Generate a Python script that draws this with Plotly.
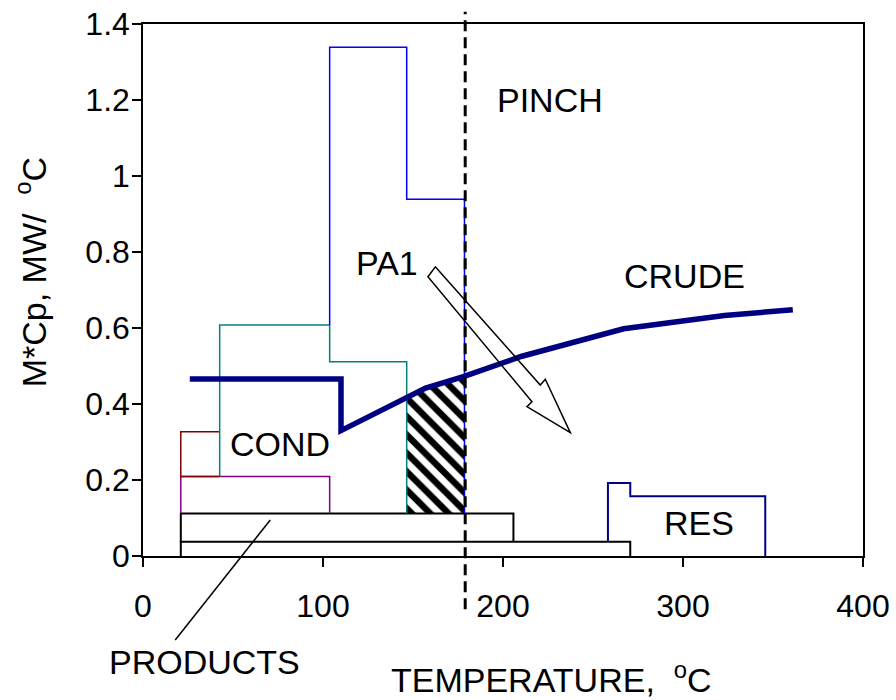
import numpy as np
import plotly.graph_objects as go

FONT = "Liberation Sans, Arial, sans-serif"
FS_TICK = 32
FS_LABEL = 34

# ---- data (temperature in degC, M*Cp in MW/degC) ----
crude_t = [26, 110, 110, 157, 178, 210, 267, 323, 361]
crude_v = [0.466, 0.466, 0.330, 0.442, 0.472, 0.525, 0.598, 0.633, 0.648]

pa1_t = [103.7, 103.7, 146.5, 146.5, 178.6, 178.6]
pa1_v = [0.608, 1.339, 1.339, 0.939, 0.939, 0.112]

cond_t = [42.6, 42.6, 103.7, 103.7, 146.5, 146.5]
cond_v = [0.209, 0.608, 0.608, 0.511, 0.511, 0.112]

red_t = [42.6, 21, 21, 42.6]
red_v = [0.327, 0.327, 0.209, 0.209]

purple_t = [21, 21, 103.7, 103.7]
purple_v = [0.112, 0.209, 0.209, 0.112]

prod_upper_t = [21, 21, 205.8, 205.8]
prod_upper_v = [0.0375, 0.112, 0.112, 0.0375]
prod_lower_t = [21, 21, 270.7, 270.7]
prod_lower_v = [0.0, 0.0375, 0.0375, 0.0]

res_t = [258.3, 258.3, 270.7, 270.7, 345.7, 345.7]
res_v = [0.0375, 0.192, 0.192, 0.157, 0.157, 0.0]

pinch_t = 179

hatch_t_lo, hatch_t_hi, hatch_v_lo = 146.5, 178.6, 0.112

pa1_arrow_t = [162.4, 220.7, 223.5, 237.4, 213.3, 216.1, 158.3]
pa1_arrow_v = [0.761, 0.4500, 0.4650, 0.3245, 0.3929, 0.4060, 0.7350]

x_ticks = [0, 100, 200, 300, 400]
y_ticks = [0, 0.2, 0.4, 0.6, 0.8, 1.0, 1.2, 1.4]
y_ticktext = ["0", "0.2", "0.4", "0.6", "0.8", "1", "1.2", "1.4"]

fig = go.Figure()

# hatched region under crude between cond edge and pinch
ct = np.array(crude_t[2:], float)
cv = np.array(crude_v[2:], float)
top_t = [hatch_t_lo] + [t for t in ct if hatch_t_lo < t < hatch_t_hi] + [hatch_t_hi]
top_v = list(np.interp(top_t, ct, cv))
h_t = [hatch_t_lo] + top_t + [hatch_t_hi, hatch_t_lo]
h_v = [hatch_v_lo] + top_v + [hatch_v_lo, hatch_v_lo]
fig.add_trace(go.Scatter(
    x=h_t, y=h_v, mode="lines", fill="toself", line=dict(width=0),
    fillcolor="white",
    fillpattern=dict(shape="\\", size=13, solidity=0.5, fgcolor="black",
                     bgcolor="white", fgopacity=1),
    hoverinfo="skip"))

def add_line(t, v, color, width):
    fig.add_trace(go.Scatter(x=t, y=v, mode="lines",
                             line=dict(color=color, width=width), hoverinfo="skip"))

add_line(prod_lower_t, prod_lower_v, "black", 2)
add_line(prod_upper_t, prod_upper_v, "black", 2)
add_line(purple_t, purple_v, "#800080", 1.5)
add_line(red_t, red_v, "#800000", 1.5)
add_line(cond_t, cond_v, "#008080", 1.5)
add_line(pa1_t, pa1_v, "#0000FF", 1.5)
add_line(res_t, res_v, "#000080", 2)
add_line(crude_t, crude_v, "#000080", 5.5)

# PA1 hollow arrow
path = "M " + " L ".join(f"{t},{v}" for t, v in zip(pa1_arrow_t, pa1_arrow_v)) + " Z"
fig.add_shape(type="path", path=path, xref="x", yref="y",
              line=dict(color="black", width=1.5), fillcolor="rgba(0,0,0,0)", layer="above")

# pinch line
fig.add_shape(type="line", xref="x", yref="paper", x0=pinch_t, x1=pinch_t,
              y0=-0.10, y1=1.023, line=dict(color="black", width=3, dash="11px,6px"),
              layer="above")

# products leader line
fig.add_shape(type="line", xref="x", yref="paper", x0=17.9, x1=70.7,
              y0=-0.158, y1=0.0677, line=dict(color="black", width=1.5), layer="above")

txt = dict(family=FONT, size=FS_LABEL, color="black")
tick_font = dict(family=FONT, size=FS_TICK, color="black")
labels = [("PINCH", 226.3, 1.200), ("PA1", 135.5, 0.770), ("CRUDE", 300.9, 0.737),
          ("COND", 76, 0.294), ("RES", 309, 0.088)]
for s, t, v in labels:
    fig.add_annotation(text=s, x=t, y=v, xref="x", yref="y", showarrow=False, font=txt,
                       xanchor="center", yanchor="middle")

fig.add_annotation(text="PRODUCTS", x=0.0861, y=-0.200, xref="paper", yref="paper",
                   showarrow=False, font=txt, xanchor="center", yanchor="middle")
fig.add_annotation(text="TEMPERATURE,\u00a0 <sup>o</sup>C", x=0.567, y=-0.228, xref="paper",
                   yref="paper", showarrow=False, font=txt, xanchor="center", yanchor="middle")
fig.add_annotation(text="M*Cp, MW/\u00a0\u00a0<sup>o</sup>C", x=-0.155, y=0.534, xref="paper",
                   yref="paper", showarrow=False, font=txt, textangle=-90,
                   xanchor="center", yanchor="middle")

axis_common = dict(showline=True, linecolor="black", linewidth=1.5, mirror=True,
                   ticks="outside", ticklen=9, tickwidth=1.5, tickcolor="black",
                   showgrid=False, zeroline=False, tickfont=tick_font, automargin=False)
fig.update_xaxes(range=[0, 400], tickvals=x_ticks, ticklabelstandoff=12, **axis_common)
fig.update_yaxes(range=[0, 1.4], tickvals=y_ticks, ticktext=y_ticktext,
                 ticklabelstandoff=-4, **axis_common)

fig.update_layout(template="none", width=896, height=700,
                  margin=dict(l=143, r=33, t=24, b=144, pad=0),
                  paper_bgcolor="white", plot_bgcolor="white", showlegend=False,
                  font=txt)

fig.write_html("out.html")
